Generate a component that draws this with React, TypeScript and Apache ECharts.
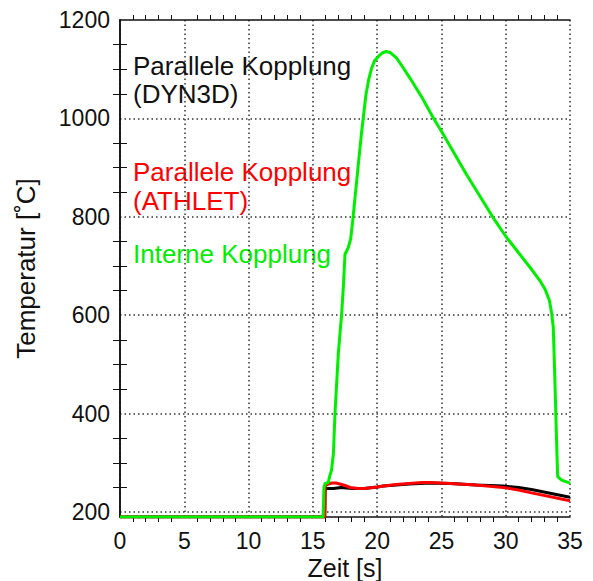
import React, { useEffect, useRef } from 'react';
import * as echarts from 'echarts';

// Interne Kopplung (green)
const internTime = [0, 15.8, 15.86, 15.95, 16.2, 16.3, 16.45, 16.6, 16.72, 16.98, 17.24, 17.37, 17.5, 17.63, 17.76, 17.94, 18.1, 18.28, 18.55, 18.8, 19.13, 19.35, 19.57, 19.8, 20.1, 20.4, 20.69, 21.0, 21.5, 22.0, 22.55, 23.5, 24.37, 25.0, 26.95, 29.03, 30.07, 31.0, 31.9, 32.67, 33.06, 33.4, 33.58, 33.7, 33.78, 33.89, 33.97, 34.04, 34.35, 35];
const internTemp = [190, 190, 250, 258, 260, 272, 285, 319, 400, 522, 603, 657, 724, 731, 738, 755, 792, 839, 910, 974, 1048, 1080, 1102, 1117, 1126, 1133, 1136, 1134, 1123, 1104, 1082, 1042, 1001, 974, 886, 798, 758, 727, 697, 670, 653, 630, 603, 575, 508, 407, 332, 272, 265, 259];

// Parallele Kopplung (DYN3D) (black)
const dyn3dTime = [0, 15.92, 15.95, 16.6, 17.2, 17.6, 18.1, 19.0, 20.0, 20.5, 22.5, 24.1, 25.7, 27.7, 29.8, 31.0, 32.0, 35];
const dyn3dTemp = [190, 190, 248, 248, 250, 249, 248, 248, 251, 253, 257, 259, 258, 255, 253, 250, 246, 230];

// Parallele Kopplung (ATHLET) (red)
const athletTime = [0, 15.93, 15.96, 16.2, 16.5, 16.8, 17.1, 17.5, 17.9, 18.5, 19.0, 20.0, 20.5, 21.5, 22.5, 23.5, 24.1, 25.7, 27.7, 29.8, 31.0, 32.0, 35];
const athletTemp = [190, 190, 254, 257, 259, 259, 257, 254, 250, 248, 248, 251, 253, 256, 258, 260, 260, 258, 255, 250, 245, 239, 223];

const yMin = 190;
const yMax = 1200;
const yLabelValues = [200, 400, 600, 800, 1000, 1200];
const yGridValues = [200, 400, 600, 800, 1000];
const yMinorValues = [250, 300, 350, 450, 500, 550, 650, 700, 750, 850, 900, 950, 1050, 1100, 1150];

const FONT = 'Liberation Sans, Arial, sans-serif';

const zip = (t: number[], v: number[]) => t.map((x, i) => [x, v[i]]);

const legendText = (text: string, y: number, fill: string) => ({
  type: 'text',
  x: 133,
  y,
  style: { text, fill, fontSize: 26, lineHeight: 26, fontFamily: FONT, verticalAlign: 'middle' },
});

export default function App() {
  const ref = useRef<HTMLDivElement>(null);

  useEffect(() => {
    if (!ref.current) return;
    const chart = echarts.init(ref.current, undefined, { renderer: 'svg' });

    const frameLine = { show: true, lineStyle: { color: '#111', width: 1.5 } };
    const gridDots = { show: true, lineStyle: { color: '#333', width: 1.5, type: [1.5, 3] as number[] } };
    const plain = (v: number) => String(v);

    chart.setOption({
      animation: false,
      backgroundColor: '#fff',
      grid: { left: 120, right: 23, top: 20, bottom: 64, containLabel: false, outerBoundsMode: 'none' },
      xAxis: [
        {
          type: 'value',
          min: 0,
          max: 35,
          interval: 5,
          position: 'bottom',
          name: 'Zeit [s]',
          nameLocation: 'middle',
          nameGap: 38,
          nameMoveOverlap: false,
          nameTextStyle: { fontSize: 25, fontFamily: FONT, color: '#111' },
          axisLine: frameLine,
          axisTick: { show: false },
          minorTick: { show: true, splitNumber: 5, length: 5, lineStyle: { color: '#111', width: 1 } },
          axisLabel: { fontSize: 23, fontFamily: FONT, color: '#111', margin: 12, formatter: plain },
          splitLine: gridDots,
        },
        {
          type: 'value',
          min: 0,
          max: 35,
          interval: 5,
          position: 'top',
          axisLine: frameLine,
          axisTick: { show: false },
          minorTick: { show: true, splitNumber: 5, length: 5, lineStyle: { color: '#111', width: 1 } },
          axisLabel: { show: false },
          splitLine: { show: false },
        },
      ],
      yAxis: [
        {
          type: 'value',
          min: yMin,
          max: yMax,
          position: 'left',
          name: 'Temperatur [˚C]',
          nameLocation: 'middle',
          nameGap: 81,
          nameMoveOverlap: false,
          nameTextStyle: { fontSize: 26, fontFamily: FONT, color: '#111' },
          axisLine: frameLine,
          axisTick: { show: true, inside: true, length: 7, customValues: yMinorValues, lineStyle: { color: '#111', width: 1 } },
          axisLabel: { fontSize: 23, fontFamily: FONT, color: '#111', margin: 10, customValues: yLabelValues, formatter: plain },
          splitLine: { show: false },
        },
        {
          type: 'value',
          min: yMin,
          max: yMax,
          position: 'right',
          axisLine: frameLine,
          axisTick: { show: true, inside: true, length: 7, customValues: yMinorValues, lineStyle: { color: '#111', width: 1 } },
          axisLabel: { show: false },
          splitLine: { show: false },
        },
        {
          type: 'value',
          min: yMin,
          max: yMax,
          position: 'left',
          axisLine: { show: false },
          axisTick: { show: false, customValues: yGridValues },
          axisLabel: { show: false },
          splitLine: gridDots,
        },
      ],
      series: [
        {
          name: 'Parallele Kopplung (DYN3D)',
          type: 'line',
          data: zip(dyn3dTime, dyn3dTemp),
          showSymbol: false,
          symbol: 'none',
          lineStyle: { color: '#000', width: 3 },
          z: 2,
        },
        {
          name: 'Parallele Kopplung (ATHLET)',
          type: 'line',
          data: zip(athletTime, athletTemp),
          showSymbol: false,
          symbol: 'none',
          lineStyle: { color: '#ff0000', width: 3 },
          z: 3,
        },
        {
          name: 'Interne Kopplung',
          type: 'line',
          data: zip(internTime, internTemp),
          showSymbol: false,
          symbol: 'none',
          lineStyle: { color: '#00ee00', width: 3 },
          z: 4,
        },
      ],
      graphic: [
        legendText('Parallele Kopplung', 66, '#111'),
        legendText('(DYN3D)', 94, '#111'),
        legendText('Parallele Kopplung', 172, '#ff0000'),
        legendText('(ATHLET)', 201, '#ff0000'),
        legendText('Interne Kopplung', 254, '#00ee00'),
      ],
    });

    return () => chart.dispose();
  }, []);

  return (
    <div
      ref={ref}
      style={{ position: 'fixed', left: 0, top: 0, width: 593, height: 581, background: '#fff' }}
    />
  );
}
